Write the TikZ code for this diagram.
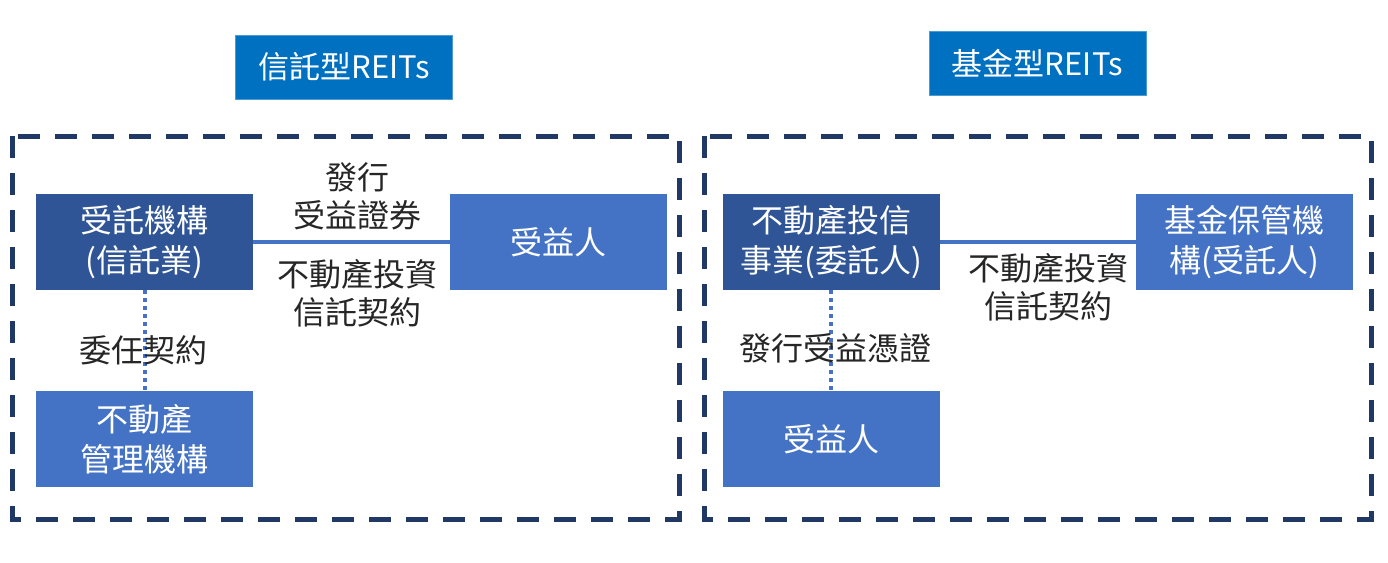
\documentclass[tikz,border=0pt]{standalone}
\usepackage{fontspec}
\setmainfont{Noto Sans CJK TC}
\definecolor{titleblue}{HTML}{0070C0}
\definecolor{darkbox}{HTML}{2F5597}
\definecolor{midbox}{HTML}{4472C4}
\definecolor{navy}{HTML}{203864}
\definecolor{txt}{HTML}{262626}
\tikzset{
  titlebox/.style={fill=titleblue, draw=titleblue!70!white, line width=0.8pt, text=white, minimum width=217pt, minimum height=64pt, inner sep=0pt, font=\fontsize{31}{34}\selectfont},
  boxdark/.style={fill=darkbox, draw=none, text=white, minimum width=217pt, minimum height=96pt, inner sep=0pt, align=center, font=\fontsize{32}{40}\selectfont},
  boxmid/.style={boxdark, fill=midbox},
  frame/.style={draw=navy, line width=5pt, dash pattern=on 22pt off 15pt},
  solidlink/.style={draw=midbox, line width=4pt},
  dotlink/.style={draw=midbox, line width=4pt, dash pattern=on 4pt off 4pt},
  lbl/.style={text=txt, align=center, inner sep=0pt, font=\fontsize{32}{38}\selectfont},
}
\begin{document}
\begin{tikzpicture}[x=1pt,y=-1pt]
\useasboundingbox (0,0) rectangle (1388,562);
% frames
\draw[frame] (12,136) rectangle (679,519);
\draw[frame] (704,136) rectangle (1371,519);
% titles
\node[titlebox] (t1) at (344,67) {信託型REITs};
\node[titlebox] (t2) at (1037.5,63.5) {基金型REITs};
% left side
\node[boxdark] (a) at (144.5,242) {受託機構\\(信託業)};
\node[boxmid] (b) at (558.5,242) {受益人};
\node[boxmid] (c) at (144.5,439) {不動產\\管理機構};
\draw[solidlink] (a.east) -- (b.west);
\draw[dotlink] (a.south) -- (c.north);
\node[lbl] (l1) at (357,196) {發行\\受益證券};
\node[lbl] (l2) at (357,293) {不動產投資\\信託契約};
\node[lbl] (l3) at (143,350) {委任契約};
% right side
\node[boxdark] (d) at (831,242) {不動產投信\\事業(委託人)};
\node[boxmid] (e) at (1244.5,242) {基金保管機\\構(受託人)};
\node[boxmid] (f) at (831,439) {受益人};
\draw[solidlink] (d.east) -- (e.west);
\draw[dotlink] (d.south) -- (f.north);
\node[lbl] (l4) at (1048,287) {不動產投資\\信託契約};
\node[lbl] (l5) at (835,348) {發行受益憑證};
\end{tikzpicture}
\end{document}
